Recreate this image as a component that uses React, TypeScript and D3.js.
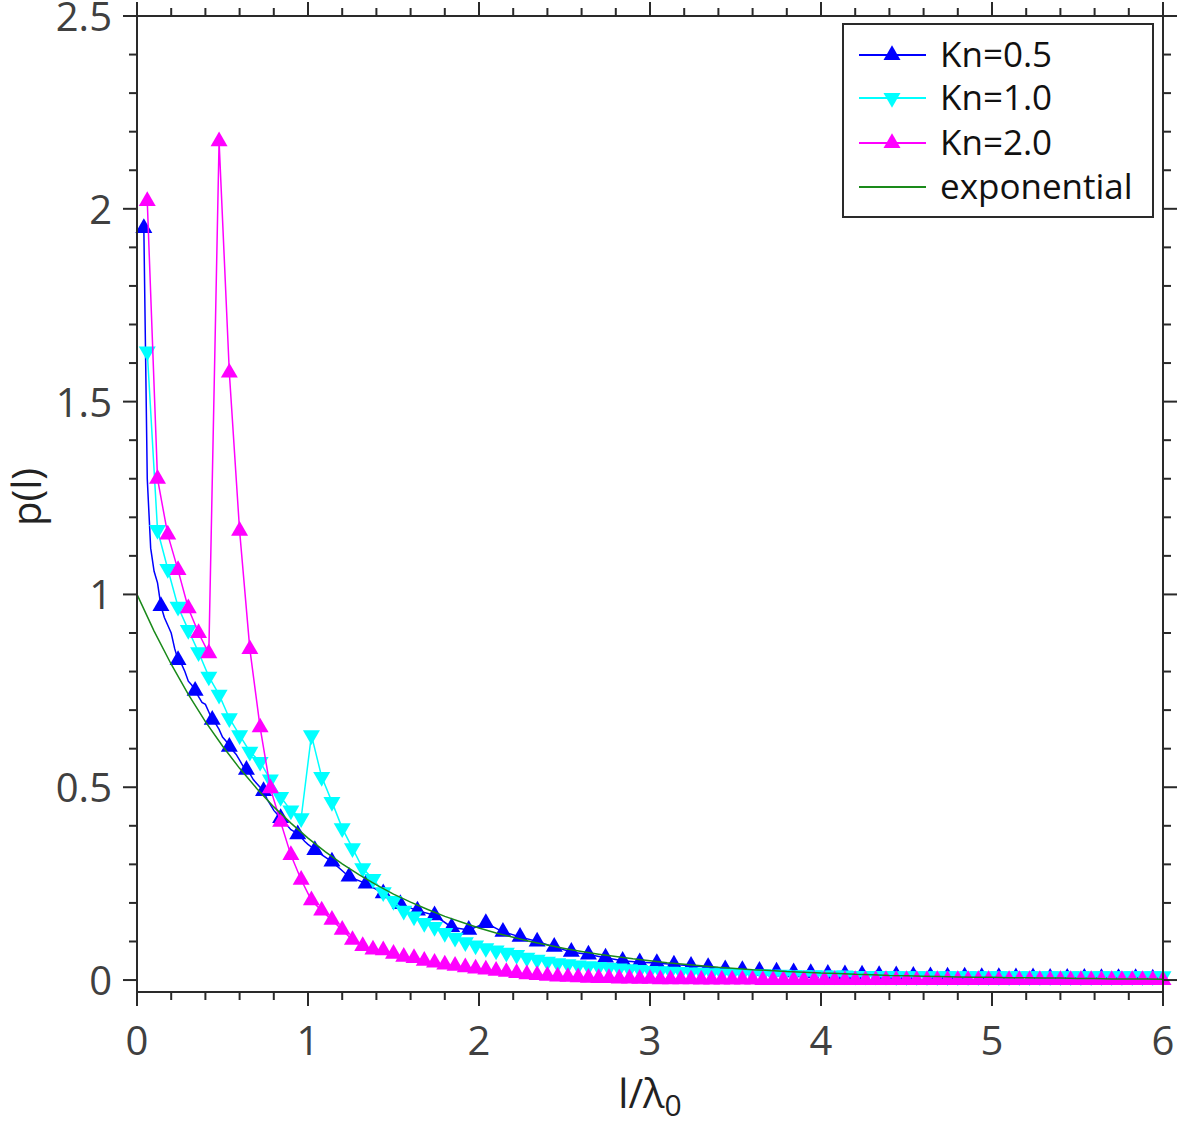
import React from "react";
import * as d3 from "d3";

// ---------- data ----------
const xTickLabels = ["0", "1", "2", "3", "4", "5", "6"];
const yTickLabels = ["0", "0.5", "1", "1.5", "2", "2.5"];

// Kn=0.5 : fine bins (0.02) up to 1.04, then 0.1 bins; marker every 0.1 starting 0.04
const kn05X = [
  0.04, 0.06, 0.08, 0.1, 0.12, 0.14, 0.16, 0.18, 0.2, 0.22, 0.24, 0.26, 0.28, 0.3, 0.32, 0.34,
  0.36, 0.38, 0.4, 0.42, 0.44, 0.46, 0.48, 0.5, 0.52, 0.54, 0.56, 0.58, 0.6, 0.62, 0.64, 0.66,
  0.68, 0.7, 0.72, 0.74, 0.76, 0.78, 0.8, 0.82, 0.84, 0.86, 0.88, 0.9, 0.92, 0.94, 0.96, 0.98,
  1.0, 1.02, 1.04,
  1.14, 1.24, 1.34, 1.44, 1.54, 1.64, 1.74, 1.84, 1.94, 2.04, 2.14, 2.24, 2.34, 2.44, 2.54, 2.64,
  2.74, 2.84, 2.94, 3.04, 3.14, 3.24, 3.34, 3.44, 3.54, 3.64, 3.74, 3.84, 3.94, 4.04, 4.14, 4.24,
  4.34, 4.44, 4.54, 4.64, 4.74, 4.84, 4.94, 5.04, 5.14, 5.24, 5.34, 5.44, 5.54, 5.64, 5.74, 5.84,
  5.94,
];
const kn05Y = [
  1.95, 1.3, 1.12, 1.06, 1.03, 0.97, 0.94, 0.92, 0.9, 0.86, 0.83, 0.82, 0.8, 0.775, 0.765, 0.75,
  0.735, 0.72, 0.715, 0.695, 0.675, 0.665, 0.65, 0.63, 0.62, 0.605, 0.595, 0.585, 0.57, 0.555, 0.545, 0.535,
  0.52, 0.51, 0.5, 0.49, 0.47, 0.455, 0.44, 0.43, 0.42, 0.41, 0.4, 0.39, 0.385, 0.378, 0.37, 0.36,
  0.352, 0.345, 0.337,
  0.307, 0.268, 0.25, 0.225, 0.197, 0.18, 0.168, 0.137, 0.13, 0.148, 0.125, 0.112, 0.1, 0.086, 0.073, 0.066,
  0.058, 0.05, 0.046, 0.044, 0.04, 0.037, 0.034, 0.028, 0.026, 0.024, 0.022, 0.02, 0.018, 0.016, 0.015, 0.014,
  0.013, 0.012, 0.011, 0.01, 0.009, 0.009, 0.008, 0.008, 0.007, 0.007, 0.006, 0.006, 0.006, 0.005, 0.005, 0.005,
  0.004,
];

// Kn=1.0 and Kn=2.0 : bins of 0.06 (0.06 .. 6.00)
const kn10Y = [
  1.63, 1.167, 1.066, 0.968, 0.908, 0.85, 0.787, 0.74, 0.679, 0.635,
  0.592, 0.566, 0.52, 0.475, 0.44, 0.42, 0.635, 0.527, 0.462, 0.394,
  0.342, 0.29, 0.262, 0.228, 0.205, 0.18, 0.165, 0.148, 0.138, 0.122,
  0.11, 0.098, 0.09, 0.083, 0.077, 0.071, 0.065, 0.058, 0.053, 0.048,
  0.044, 0.041, 0.038, 0.036, 0.034, 0.032, 0.03, 0.028, 0.026, 0.024,
  0.023, 0.022, 0.021, 0.02, 0.019, 0.018, 0.017, 0.016, 0.016, 0.015,
  0.015, 0.014, 0.014, 0.013, 0.013, 0.013, 0.012, 0.012, 0.012, 0.011,
  0.011, 0.011, 0.011, 0.01, 0.01, 0.01, 0.01, 0.01, 0.01, 0.01,
  0.01, 0.01, 0.01, 0.01, 0.01, 0.01, 0.01, 0.01, 0.01, 0.01,
  0.01, 0.01, 0.01, 0.01, 0.01, 0.01, 0.01, 0.01, 0.01, 0.01,
];
const kn20Y = [
  2.02, 1.3, 1.155, 1.063, 0.964, 0.9, 0.847, 2.175, 1.575, 1.165,
  0.858, 0.655, 0.497, 0.41, 0.324, 0.26, 0.207, 0.18, 0.156, 0.13,
  0.104, 0.088, 0.079, 0.077, 0.068, 0.06, 0.057, 0.05, 0.045, 0.04,
  0.037, 0.033, 0.03, 0.027, 0.024, 0.021, 0.018, 0.015, 0.013, 0.011,
  0.009, 0.008, 0.007, 0.006, 0.005, 0.005, 0.004, 0.004, 0.003, 0.003,
  0.002, 0.002, 0.002, 0.002, 0.001, 0.001, 0.001, 0.001, 0.001, 0.001,
  0.0, 0.0, 0.0, 0.0, 0.0, 0.0, 0.0, 0.0, 0.0, 0.0,
  0.0, 0.0, 0.0, 0.0, 0.0, 0.0, 0.0, 0.0, 0.0, 0.0,
  0.0, 0.0, 0.0, 0.0, 0.0, 0.0, 0.0, 0.0, 0.0, 0.0,
  0.0, 0.0, 0.0, 0.0, 0.0, 0.0, 0.0, 0.0, 0.0, 0.0,
];
const binStep = 0.06;

// exponential reference curve, sampled every 0.1 from 0 to 6
const expY = [
  1.0, 0.905, 0.819, 0.741, 0.67, 0.607, 0.549, 0.497, 0.449, 0.407,
  0.368, 0.333, 0.301, 0.273, 0.247, 0.223, 0.202, 0.183, 0.165, 0.15,
  0.135, 0.122, 0.111, 0.1, 0.091, 0.082, 0.074, 0.067, 0.061, 0.055,
  0.05, 0.045, 0.041, 0.037, 0.033, 0.03, 0.027, 0.025, 0.022, 0.02,
  0.018, 0.017, 0.015, 0.014, 0.012, 0.011, 0.01, 0.009, 0.008, 0.007,
  0.007, 0.006, 0.006, 0.005, 0.005, 0.004, 0.004, 0.003, 0.003, 0.003,
  0.002,
];
const expStep = 0.1;

const legendLabels = ["Kn=0.5", "Kn=1.0", "Kn=2.0", "exponential"];
const seriesColors = ["#0000ff", "#00ffff", "#ff00ff", "#1a8a1a"];

// ---------- layout ----------
const W = 1179;
const H = 1125;
const L = 137, R = 1163, T = 16, B = 992;
const FONT = "'Open Sans', 'Noto Sans', 'DejaVu Sans', sans-serif";
const AXIS = "#2a2a2a";
const LABEL = "#404040";

export default function App() {
  const x = d3.scaleLinear().domain([0, 6]).range([L, R]);
  const y = d3.scaleLinear().domain([-0.031, 2.5]).range([B, T]);

  const xMajor = xTickLabels.map(Number);
  const yMajor = yTickLabels.map(Number);
  const xMinor = d3.range(0, 6.0001, 0.2).filter((v) => Math.abs(v - Math.round(v)) > 1e-6);
  const yMinor = d3.range(0, 2.5001, 0.1).filter((v) => Math.abs(v * 2 - Math.round(v * 2)) > 1e-6);

  const kn05 = kn05X.map((xv, i) => [xv, kn05Y[i]] as [number, number]);
  const kn05Markers = kn05.filter(([xv]) => {
    const k = (xv - 0.04) / 0.1;
    return Math.abs(k - Math.round(k)) < 1e-6;
  });
  const kn10 = kn10Y.map((v, i) => [(i + 1) * binStep, v] as [number, number]);
  const kn20 = kn20Y.map((v, i) => [(i + 1) * binStep, v] as [number, number]);
  const expo = expY.map((v, i) => [i * expStep, v] as [number, number]);

  const line = d3
    .line<[number, number]>()
    .x((d) => x(d[0]))
    .y((d) => y(d[1]));

  const tri = d3.symbol().type(d3.symbolTriangle).size(125)() as string;
  const triLegend = d3.symbol().type(d3.symbolTriangle).size(125)() as string;

  const majorLen = 14;
  const minorLen = 8;

  const legendRows = [55, 98, 143, 187];

  return (
    <svg
      width={W}
      height={H}
      style={{ position: "absolute", left: 0, top: 0, background: "#fff" }}
      fontFamily={FONT}
    >
      <rect x={0} y={0} width={W} height={H} fill="#fff" />

      {/* data */}
      <g>
        <path d={line(kn05) || ""} fill="none" stroke={seriesColors[0]} strokeWidth={1.5} />
        {kn05Markers.map((d, i) => (
          <path key={"b" + i} d={tri} transform={`translate(${x(d[0])},${y(d[1])})`} fill={seriesColors[0]} />
        ))}
        <path d={line(kn10) || ""} fill="none" stroke={seriesColors[1]} strokeWidth={1.5} />
        {kn10.map((d, i) => (
          <path key={"c" + i} d={tri} transform={`translate(${x(d[0])},${y(d[1])}) rotate(180)`} fill={seriesColors[1]} />
        ))}
        <path d={line(kn20) || ""} fill="none" stroke={seriesColors[2]} strokeWidth={1.5} />
        {kn20.map((d, i) => (
          <path key={"m" + i} d={tri} transform={`translate(${x(d[0])},${y(d[1])})`} fill={seriesColors[2]} />
        ))}
        <path d={line(expo) || ""} fill="none" stroke={seriesColors[3]} strokeWidth={1.5} />
      </g>

      {/* frame */}
      <rect x={L} y={T} width={R - L} height={B - T} fill="none" stroke={AXIS} strokeWidth={2} />

      {/* x ticks bottom & top */}
      {xMajor.map((v) => (
        <g key={"xM" + v}>
          <line x1={x(v)} x2={x(v)} y1={B} y2={B + majorLen} stroke={AXIS} strokeWidth={2} />
          <line x1={x(v)} x2={x(v)} y1={T} y2={T - majorLen} stroke={AXIS} strokeWidth={2} />
        </g>
      ))}
      {xMinor.map((v, i) => (
        <g key={"xm" + i}>
          <line x1={x(v)} x2={x(v)} y1={B} y2={B + minorLen} stroke={AXIS} strokeWidth={2} />
          <line x1={x(v)} x2={x(v)} y1={T} y2={T - minorLen} stroke={AXIS} strokeWidth={2} />
        </g>
      ))}
      {/* y ticks left & right */}
      {yMajor.map((v) => (
        <g key={"yM" + v}>
          <line x1={L} x2={L - majorLen} y1={y(v)} y2={y(v)} stroke={AXIS} strokeWidth={2} />
          <line x1={R} x2={R + majorLen} y1={y(v)} y2={y(v)} stroke={AXIS} strokeWidth={2} />
        </g>
      ))}
      {yMinor.map((v, i) => (
        <g key={"ym" + i}>
          <line x1={L} x2={L - minorLen} y1={y(v)} y2={y(v)} stroke={AXIS} strokeWidth={2} />
          <line x1={R} x2={R + minorLen} y1={y(v)} y2={y(v)} stroke={AXIS} strokeWidth={2} />
        </g>
      ))}

      {/* tick labels */}
      {xTickLabels.map((t) => (
        <text key={"xl" + t} x={x(Number(t))} y={1055} textAnchor="middle" fontSize={40} fill={LABEL}>
          {t}
        </text>
      ))}
      {yTickLabels.map((t) => (
        <text key={"yl" + t} x={112} y={y(Number(t)) + 15} textAnchor="end" fontSize={40} fill={LABEL}>
          {t}
        </text>
      ))}

      {/* axis titles */}
      <text x={650} y={1108} textAnchor="middle" fontSize={40} fill="#222">
        l/λ
        <tspan fontSize={30} dy={8}>0</tspan>
      </text>
      <text transform={`translate(41,497) rotate(-90)`} textAnchor="middle" fontSize={40} fill="#222">
        p(l)
      </text>

      {/* legend */}
      <rect x={843} y={24} width={310} height={193} fill="#fff" stroke={AXIS} strokeWidth={2} />
      {legendLabels.map((lab, i) => (
        <g key={"lg" + i}>
          <line x1={859} x2={926} y1={legendRows[i]} y2={legendRows[i]} stroke={seriesColors[i]} strokeWidth={2} />
          {i < 3 && (
            <path
              d={triLegend}
              transform={`translate(892,${legendRows[i]})${i === 1 ? " rotate(180)" : ""}`}
              fill={seriesColors[i]}
            />
          )}
          <text x={940} y={legendRows[i] + 12} fontSize={35} fill="#111">
            {lab}
          </text>
        </g>
      ))}
    </svg>
  );
}
